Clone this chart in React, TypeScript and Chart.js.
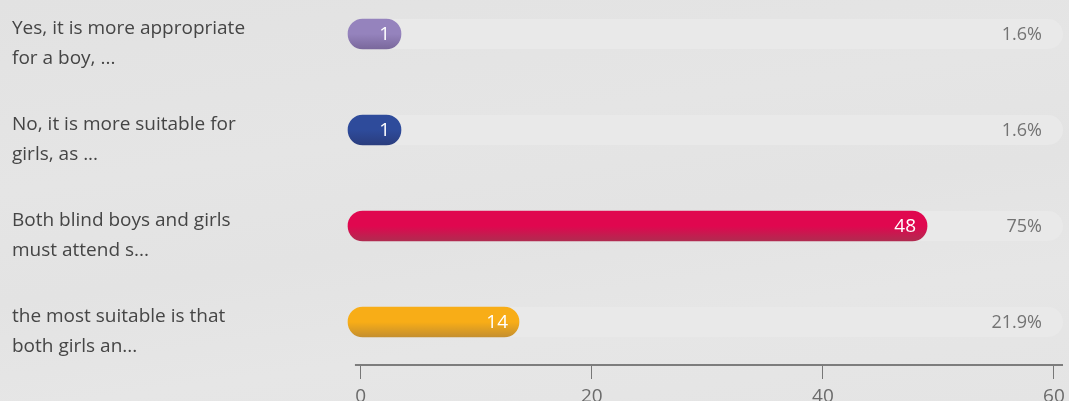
import React, { useEffect, useRef } from "react";
import { Chart, registerables } from "chart.js";

Chart.register(...registerables);

const CATEGORY_LABELS: string[][] = [
  ["Yes, it is more appropriate", "for a boy, ..."],
  ["No, it is more suitable for", "girls, as ..."],
  ["Both blind boys and girls", "must attend s..."],
  ["the most suitable is that", "both girls an..."],
];
const VALUES: number[] = [1, 1, 48, 14];
const BAR_COLORS: string[] = ["#9583bd", "#2e4b9b", "#e0074f", "#f8ad17"];
const BAR_SHADES: string[] = ["#7a689c", "#2a3d7e", "#b02b50", "#c58f2e"];
const X_TICKS: number[] = [0, 20, 40, 60];

const FONT = "'Open Sans', 'Noto Sans', sans-serif";

export default function App() {
  const ref = useRef<HTMLCanvasElement | null>(null);

  useEffect(() => {
    const canvas = ref.current;
    if (!canvas) return;
    const total = VALUES.reduce((a, b) => a + b, 0);

    const overlay = {
      id: "overlay",
      beforeDatasetsDraw(chart: any) {
        const { ctx, chartArea } = chart;
        const ys = chart.scales.y;
        const left = chartArea.left;
        ctx.save();
        ctx.fillStyle = "#e9e9e9";
        VALUES.forEach((_, i) => {
          const y = ys.getPixelForValue(i);
          ctx.beginPath();
          (ctx as any).roundRect(left, y - 15, chartArea.right - left, 30, 15);
          ctx.fill();
        });
        ctx.restore();
      },
      afterDatasetsDraw(chart: any) {
        const { ctx, chartArea } = chart;
        const meta = chart.getDatasetMeta(0);
        ctx.save();
        ctx.textBaseline = "middle";
        meta.data.forEach((el: any, i: number) => {
          ctx.textAlign = "right";
          ctx.font = `19px ${FONT}`;
          ctx.fillStyle = "#ffffff";
          ctx.fillText(String(VALUES[i]), el.x - 11, el.y + 1);
          ctx.font = `18px ${FONT}`;
          ctx.fillStyle = "#737373";
          const pct = +((VALUES[i] / total) * 100).toFixed(1);
          ctx.fillText(`${pct}%`, chartArea.right - 21, el.y + 1);
        });
        ctx.restore();
      },
      afterDraw(chart: any) {
        const { ctx, chartArea } = chart;
        const xs = chart.scales.x;
        ctx.save();
        ctx.strokeStyle = "#7d7d7d";
        ctx.lineWidth = 2;
        ctx.beginPath();
        ctx.moveTo(xs.getPixelForValue(-0.5), chartArea.bottom);
        ctx.lineTo(chartArea.right, chartArea.bottom);
        ctx.stroke();
        ctx.restore();
      },
    };

    const chart = new Chart(canvas, {
      type: "bar",
      data: {
        datasets: [
          {
            data: VALUES.map((v, i) => ({ x: v, y: i })),
            xAxisID: "xb",
            yAxisID: "y",
            base: -0.25,
            barThickness: 30,
            minBarLength: 53,
            borderRadius: 15,
            borderSkipped: false,
            clip: false as any,
            backgroundColor: (c: any) => {
              const chart = c.chart;
              const i = c.dataIndex ?? 0;
              const ys = chart.scales?.y;
              if (!ys || !chart.chartArea) return BAR_COLORS[i];
              const y = ys.getPixelForValue(i);
              const g = chart.ctx.createLinearGradient(0, y - 15, 0, y + 15);
              g.addColorStop(0, BAR_COLORS[i]);
              g.addColorStop(0.5, BAR_COLORS[i]);
              g.addColorStop(1, BAR_SHADES[i]);
              return g;
            },
          } as any,
        ],
      },
      options: {
        indexAxis: "y",
        animation: false,
        responsive: true,
        maintainAspectRatio: false,
        layout: { autoPadding: false, padding: { left: 12, top: 0, right: 6, bottom: 0 } },
        plugins: { legend: { display: false }, tooltip: { enabled: false } },
        scales: {
          x: {
            type: "linear",
            position: "bottom",
            min: -1.1,
            max: 60.78,
            afterBuildTicks: (s: any) => {
              s.ticks = X_TICKS.map((v) => ({ value: v }));
            },
            afterFit: (s: any) => {
              s.height = 36;
              s.paddingLeft = 0;
              s.paddingRight = 0;
            },
            border: { display: false },
            grid: {
              drawOnChartArea: false,
              drawTicks: true,
              tickLength: 14,
              tickColor: "#777777",
              tickWidth: 1,
            },
            ticks: {
              color: "#6b6b6b",
              padding: 6,
              maxRotation: 0,
              font: { family: FONT, size: 19 },
            },
          },
          xb: {
            type: "linear",
            display: false,
            min: -0.25,
            max: 59.33,
          },
          y: {
            type: "linear",
            reverse: true,
            offset: false,
            min: -0.354,
            max: 3.448,
            afterBuildTicks: (s: any) => {
              s.ticks = CATEGORY_LABELS.map((_, i) => ({ value: i }));
            },
            afterFit: (s: any) => {
              s.width = 336;
              s.paddingTop = 0;
              s.paddingBottom = 0;
            },
            border: { display: false },
            grid: { display: false, drawTicks: false, offset: false },
            ticks: {
              crossAlign: "far",
              labelOffset: 10,
              color: "#454545",
              font: { family: FONT, size: 19, lineHeight: 30 / 19 },
              callback: (v: any) => CATEGORY_LABELS[Math.round(Number(v))] ?? "",
            },
          },
        },
      },
      plugins: [overlay],
    });
    return () => chart.destroy();
  }, []);

  return (
    <div
      style={{
        position: "absolute",
        left: 0,
        top: 0,
        width: 1069,
        height: 401,
        background:
          "linear-gradient(172deg, #e2e2e2 0%, #e5e5e5 35%, #e3e3e3 55%, #e6e6e6 75%, #e4e4e4 100%)",
      }}
    >
      <canvas ref={ref} />
    </div>
  );
}
